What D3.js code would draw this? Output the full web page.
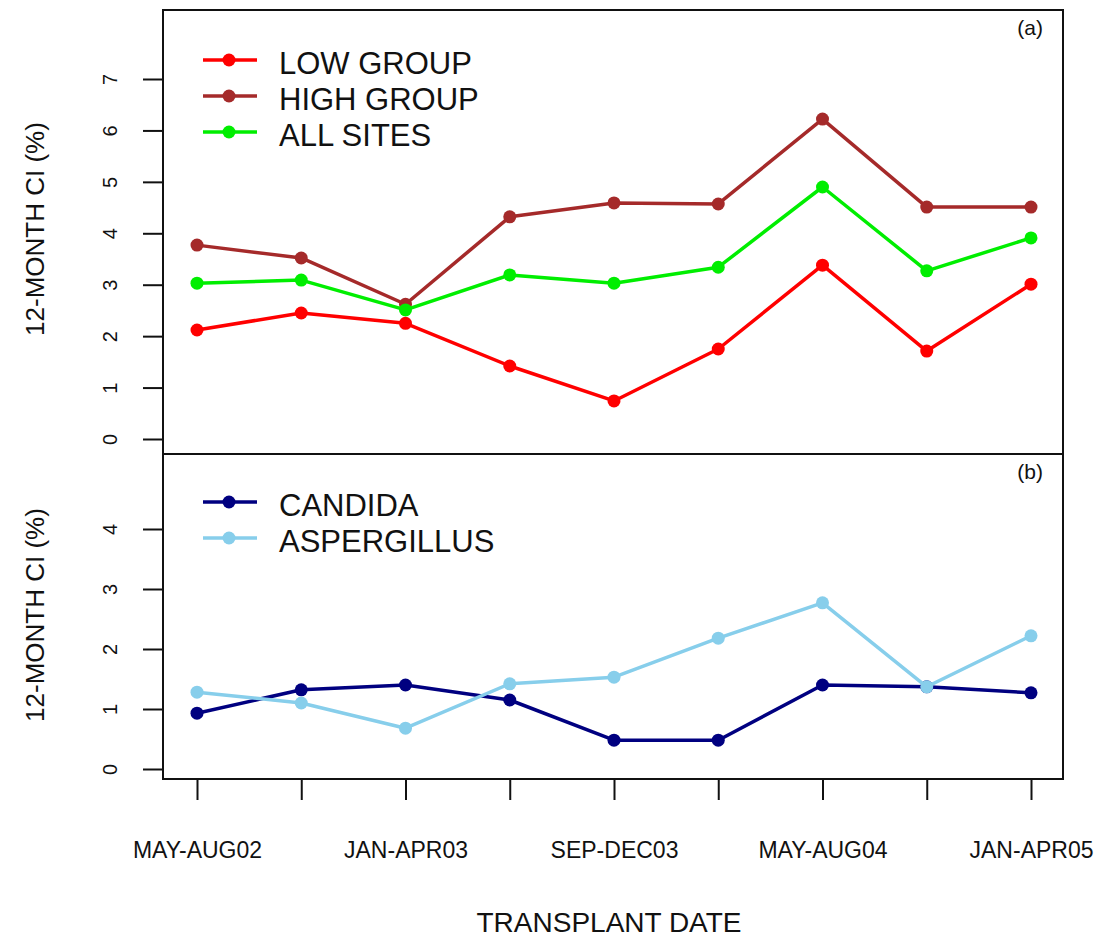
<!DOCTYPE html>
<html>
<head>
<meta charset="utf-8">
<script src="https://cdn.jsdelivr.net/npm/d3@7"></script>
<style>
  html, body { margin: 0; padding: 0; background: #fff; }
  svg { display: block; }
  text { font-family: "Liberation Sans", Arial, sans-serif; fill: #111; }
</style>
</head>
<body>
<svg id="chart" width="1104" height="938"></svg>
<script>
// ---- data ----
const categories = ["MAY-AUG02","SEP-DEC02","JAN-APR03","MAY-AUG03","SEP-DEC03","JAN-APR04","MAY-AUG04","SEP-DEC04","JAN-APR05"];
const lowGroup    = [2.12, 2.45, 2.25, 1.42, 0.74, 1.75, 3.38, 1.71, 3.01];
const highGroup   = [3.77, 3.52, 2.62, 4.32, 4.59, 4.57, 6.22, 4.51, 4.51];
const allSites    = [3.03, 3.09, 2.51, 3.19, 3.03, 3.34, 4.90, 3.27, 3.91];
const candida     = [0.93, 1.32, 1.40, 1.15, 0.48, 0.48, 1.40, 1.37, 1.27];
const aspergillus = [1.28, 1.10, 0.68, 1.42, 1.53, 2.18, 2.77, 1.37, 2.22];
const topTicks = [0, 1, 2, 3, 4, 5, 6, 7];
const bottomTicks = [0, 1, 2, 3, 4];
const shownXLabels = ["MAY-AUG02", "JAN-APR03", "SEP-DEC03", "MAY-AUG04", "JAN-APR05"];

const topSeries = [
  { name: "LOW GROUP", values: lowGroup, color: "#ff0000" },
  { name: "HIGH GROUP", values: highGroup, color: "#a52a2a" },
  { name: "ALL SITES", values: allSites, color: "#00ee00" }
];
const bottomSeries = [
  { name: "CANDIDA", values: candida, color: "#000080" },
  { name: "ASPERGILLUS", values: aspergillus, color: "#87ceeb" }
];

// ---- layout ----
const L = 163, R = 1063;
const topPanel = { y0: 10, y1: 454 };
const botPanel = { y0: 454, y1: 779 };

const svg = d3.select("#chart");

const x = d3.scaleLinear().domain([1, 9]).range([197, 1031]);
const yTop = d3.scaleLinear().domain([0, 7]).range([439, 79]);
const yBot = d3.scaleLinear().domain([0, 4]).range([769, 529]);

function drawPanel(series, y, ticks, panel, tag, legendY, titleY) {
  const g = svg.append("g");

  // y axis
  const ax = g.append("g")
    .attr("transform", `translate(${L},0)`)
    .call(d3.axisLeft(y).tickValues(ticks).tickSize(20).tickFormat(d3.format("d")));
  ax.select(".domain").remove();
  ax.selectAll(".tick line").attr("stroke", "#111").attr("stroke-width", 2);
  ax.selectAll(".tick text")
    .attr("x", null).attr("y", null).attr("dy", null)
    .attr("text-anchor", "middle")
    .attr("transform", "translate(-46,0) rotate(-90)")
    .style("font-size", "20px")
    .style("fill", "#111");

  // lines and points
  const line = d3.line().x((d, i) => x(i + 1)).y(d => y(d));
  series.forEach(s => {
    g.append("path")
      .datum(s.values)
      .attr("d", line)
      .attr("fill", "none")
      .attr("stroke", s.color)
      .attr("stroke-width", 3.5)
      .attr("stroke-linejoin", "round");
    g.selectAll(null)
      .data(s.values)
      .enter().append("circle")
      .attr("cx", (d, i) => x(i + 1))
      .attr("cy", d => y(d))
      .attr("r", 6.5)
      .attr("fill", s.color);
  });

  // legend
  series.forEach((s, i) => {
    const ly = legendY + i * 36;
    g.append("line")
      .attr("x1", 203).attr("x2", 257).attr("y1", ly).attr("y2", ly)
      .attr("stroke", s.color).attr("stroke-width", 3.5);
    g.append("circle").attr("cx", 229).attr("cy", ly).attr("r", 6.5).attr("fill", s.color);
    g.append("text")
      .attr("x", 279).attr("y", ly + 14)
      .style("font-size", "31px")
      .text(s.name);
  });

  // panel tag
  g.append("text")
    .attr("x", 1043).attr("y", panel.y0 + 25)
    .attr("text-anchor", "end")
    .style("font-size", "21px")
    .text(tag);

  // y title
  g.append("text")
    .attr("transform", `translate(44,${titleY}) rotate(-90)`)
    .attr("text-anchor", "middle")
    .style("font-size", "26px")
    .text("12-MONTH CI (%)");

  // box
  g.append("rect")
    .attr("x", L).attr("y", panel.y0)
    .attr("width", R - L).attr("height", panel.y1 - panel.y0)
    .attr("fill", "none").attr("stroke", "#111").attr("stroke-width", 2);
}

drawPanel(topSeries, yTop, topTicks, topPanel, "(a)", 60, 229);
drawPanel(bottomSeries, yBot, bottomTicks, botPanel, "(b)", 502, 615);

// x axis (bottom panel)
const xa = svg.append("g")
  .attr("transform", `translate(0,${botPanel.y1})`)
  .call(d3.axisBottom(x)
    .tickValues(d3.range(1, categories.length + 1))
    .tickSize(21)
    .tickFormat(d => shownXLabels.includes(categories[d - 1]) ? categories[d - 1] : ""));
xa.select(".domain").remove();
xa.selectAll(".tick line").attr("stroke", "#111").attr("stroke-width", 2);
xa.selectAll(".tick text")
  .attr("y", 79).attr("dy", null)
  .style("font-size", "23px")
  .style("fill", "#111");

// x title
svg.append("text")
  .attr("x", 609).attr("y", 932)
  .attr("text-anchor", "middle")
  .style("font-size", "28px")
  .text("TRANSPLANT DATE");
</script>
</body>
</html>
